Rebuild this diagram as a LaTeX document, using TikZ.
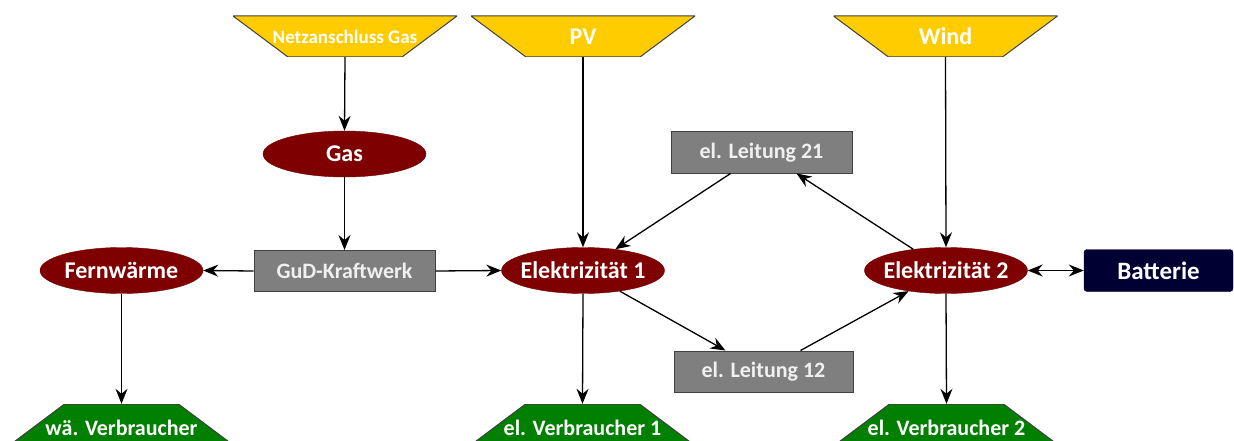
\documentclass[tikz,border=0pt]{standalone}
\usepackage{fontspec}
\setmainfont{Carlito}
\usetikzlibrary{shapes.geometric,arrows.meta}
\definecolor{trapyellow}{HTML}{FFCC00}
\definecolor{darkred}{HTML}{7F0000}
\definecolor{boxgray}{HTML}{7F7F7F}
\definecolor{boxborder}{HTML}{404040}
\definecolor{leafgreen}{HTML}{007F00}
\definecolor{navybox}{HTML}{000033}
\newcommand{\zerowide}[1]{\makebox[0pt]{#1}}
\begin{document}
\begin{tikzpicture}[x=1pt,y=-1pt,
  bigtext/.style={font=\bfseries\fontsize{24}{26}\selectfont, text=white},
  midtext/.style={font=\bfseries\fontsize{22}{24}\selectfont, text=white},
  toptrap/.style={rectangle, minimum width=224pt, minimum height=41pt, inner sep=0pt, bigtext,
    path picture={\draw[fill=trapyellow, draw=boxborder, line width=1pt]
      (path picture bounding box.north west) -- (path picture bounding box.north east)
      -- ([xshift=-55pt]path picture bounding box.south east)
      -- ([xshift=55pt]path picture bounding box.south west) -- cycle;}},
  bottrap/.style={rectangle, minimum width=242pt, minimum height=48pt, inner sep=0pt, midtext,
    path picture={\draw[fill=leafgreen, draw=boxborder, line width=1pt]
      ([xshift=64pt]path picture bounding box.north west) -- ([xshift=-64pt]path picture bounding box.north east)
      -- (path picture bounding box.south east)
      -- (path picture bounding box.south west) -- cycle;}},
  carrier/.style={ellipse, minimum width=163pt, minimum height=46pt, inner sep=0pt,
    fill=darkred, draw=darkred!90!black, bigtext},
  convbox/.style={rectangle, minimum width=181pt, minimum height=41pt, inner sep=0pt,
    fill=boxgray, draw=boxborder, line width=1pt, midtext, text=white!94!black},
  storebox/.style={rectangle, rounded corners=3pt, minimum width=149pt, minimum height=42pt,
    inner sep=0pt, fill=navybox, draw=navybox, font=\bfseries\fontsize{25}{27}\selectfont, text=white},
  arr/.style={-{Stealth[length=15pt,width=12pt,inset=5pt]}, line width=1.3pt, black},
  darr/.style={{Stealth[length=15pt,width=12pt,inset=5pt]}-{Stealth[length=15pt,width=12pt,inset=5pt]}, line width=1.3pt, black}
]
\clip (0,0) rectangle (1234,441);
\useasboundingbox (0,0) rectangle (1234,441);

% sources
\node[toptrap, font=\bfseries\fontsize{19}{21}\selectfont] (netz) at (345,36.5) {Netzanschluss Gas};
\node[toptrap] (pv) at (583,36.5) {PV};
\node[toptrap] (wind) at (945.5,36.5) {Wind};

% carriers
\node[carrier] (gas) at (344.5,154) {\zerowide{Gas}};
\node[carrier] (fw) at (121.5,270.5) {\zerowide{Fernwärme}};
\node[carrier] (el1) at (583,270.5) {\zerowide{Elektrizität 1}};
\node[carrier] (el2) at (946,270.5) {\zerowide{Elektrizität 2}};

% converters
\node[convbox] (gud) at (344.5,271) {GuD-Kraftwerk};
\node[convbox] (l21) at (761.5,152.5) {el. Leitung 21};
\node[convbox, minimum width=179pt] (l12) at (763.5,371.5) {el. Leitung 12};
\node[storebox] (bat) at (1158.5,270.5) {Batterie};

% sinks
\node[bottrap] (wv) at (121.5,428) {wä. Verbraucher};
\node[bottrap] (ev1) at (582.5,428) {el. Verbraucher 1};
\node[bottrap] (ev2) at (946.5,428) {el. Verbraucher 2};

% connectors
\draw[arr] (netz.south) -- (gas.north);
\draw[arr] (gas.south) -- (gud.north);
\draw[arr] (gud.west) -- (fw.east);
\draw[arr] (gud.east) -- (el1.west);
\draw[arr] (pv.south) -- (el1.north);
\draw[arr] (wind.south) -- (el2.north);
\draw[darr] (el2.east) -- (bat.west);
\draw[arr] (fw.south) -- (wv.north);
\draw[arr] (el1.south) -- (ev1.north);
\draw[arr] (el2.south) -- (ev2.north);
\draw[arr] ([xshift=-31pt]l21.south) -- (el1);
\draw[arr] (el2) -- ([xshift=35pt]l21.south);
\draw[arr] (el1) -- ([xshift=-38pt]l12.north);
\draw[arr] ([xshift=37pt]l12.north) -- (el2);
\end{tikzpicture}
\end{document}
